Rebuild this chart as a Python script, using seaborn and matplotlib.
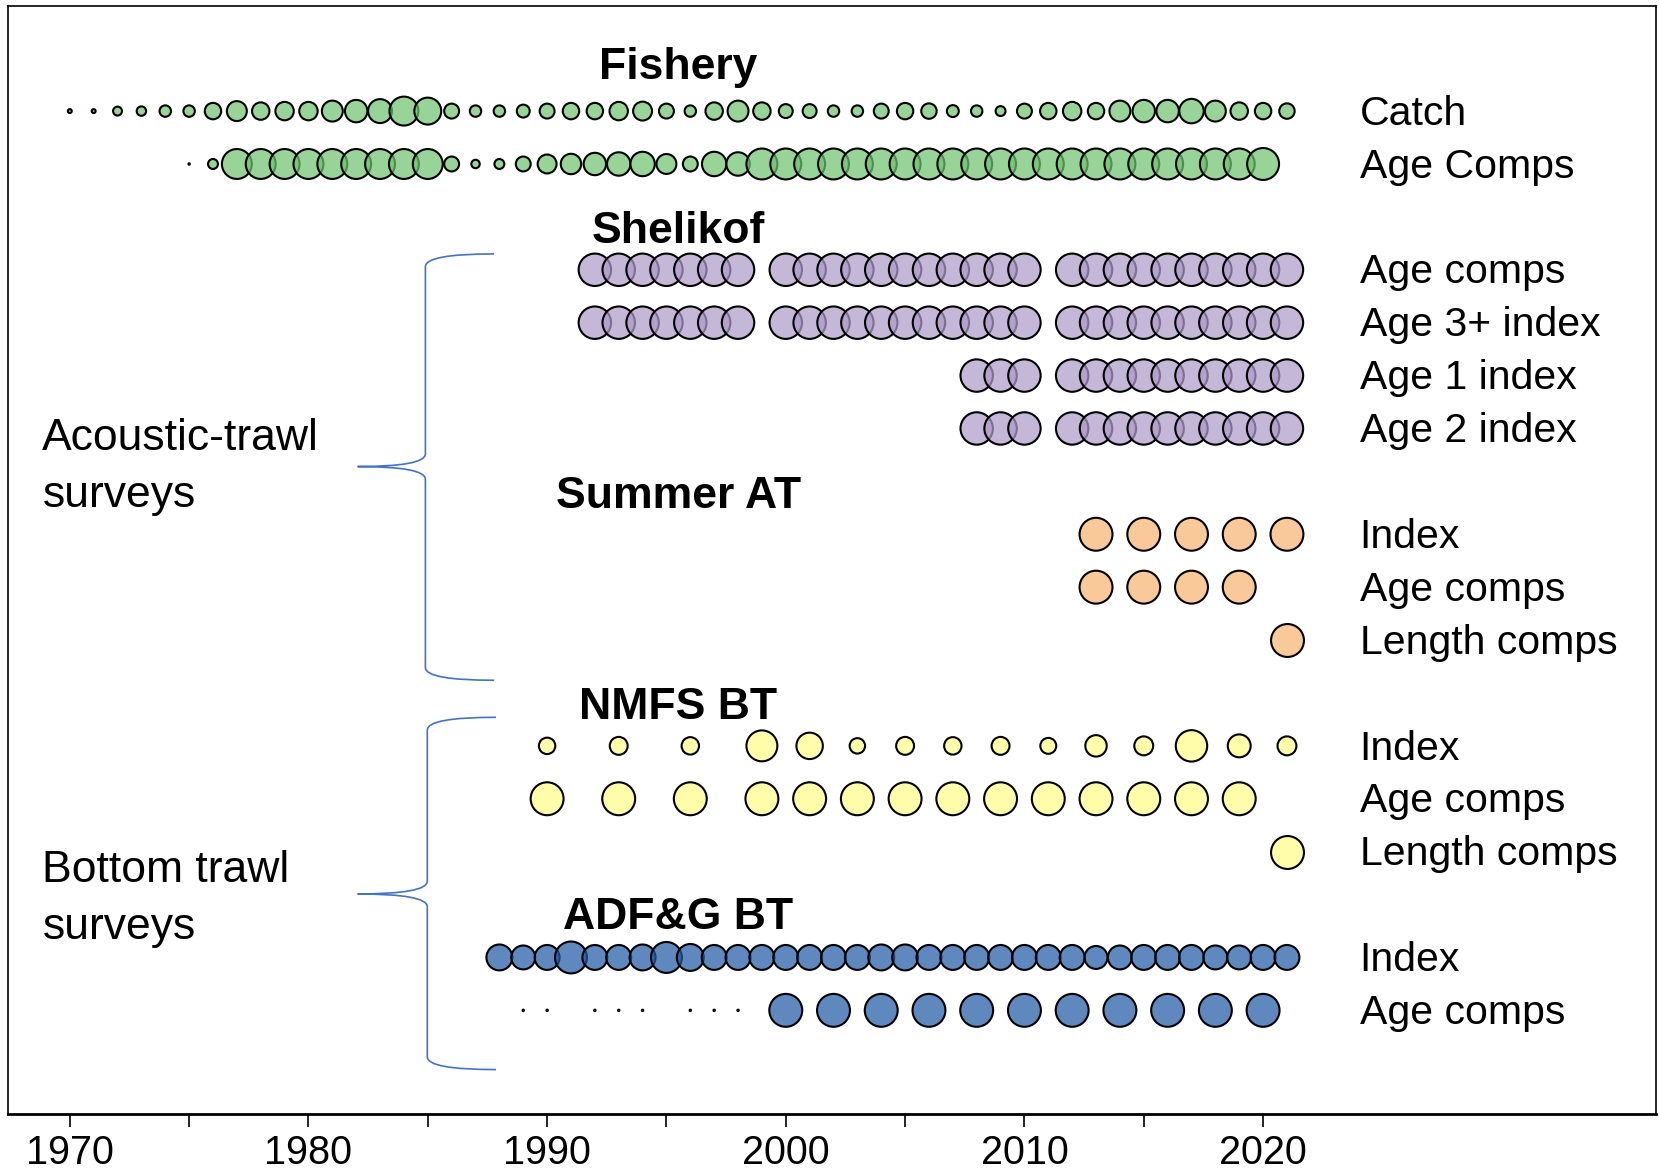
# Data availability bubble chart (fishery + surveys)

import pandas as pd
import matplotlib
matplotlib.use("Agg")
import matplotlib.pyplot as plt
import matplotlib.colors as mcolors
from matplotlib.path import Path
from matplotlib.patches import PathPatch
import seaborn as sns

sns.set_style("ticks")
plt.rcParams["font.family"] = ["Liberation Sans", "DejaVu Sans"]
plt.rcParams["text.color"] = "black"
plt.rcParams["xtick.color"] = "black"
plt.rcParams["xtick.labelcolor"] = "black"


# DATA (bubble diameters, in pixels)

fishery_catch_years = list(range(1970, 2022))
fishery_catch_size = [6, 6, 11, 11.5, 13.5, 13.5, 18.5, 22, 19.5, 20.5,
                      20.5, 23, 24.5, 26, 31, 29, 17, 13.5, 13.5, 15,
                      17, 18.5, 18.5, 20.5, 21, 17, 13.5, 19.5, 23, 19.5,
                      16, 16, 13.5, 13.5, 17, 18.5, 17.5, 14, 13.5, 12,
                      17, 18.5, 20.5, 18.5, 23, 24.5, 24.5, 26.5, 23, 19.5,
                      18.5, 17.5]

fishery_age_years = list(range(1975, 2021))
fishery_age_size = [3.5, 12, 32, 32, 32, 32, 32, 32, 32, 32,
                    32, 17, 10.5, 12, 17, 21, 22.5, 24.5, 25.5, 26.5,
                    22, 17, 26.5, 25.5, 33, 33, 33, 33, 33, 33,
                    33, 33, 33, 33, 33, 33, 33, 33, 33, 33,
                    33, 33, 33, 33, 33, 34]

shelikof_years = list(range(1992, 1999)) + list(range(2000, 2011)) + list(range(2012, 2022))
shelikof_age1_years = [2008, 2009, 2010] + list(range(2012, 2022))
shelikof_size = 34.5

summer_index_years = [2013, 2015, 2017, 2019, 2021]
summer_age_years = [2013, 2015, 2017, 2019]
summer_length_years = [2021]
summer_size = 35

nmfs_index_years = [1990, 1993, 1996, 1999, 2001, 2003, 2005, 2007, 2009,
                    2011, 2013, 2015, 2017, 2019, 2021]
nmfs_index_size = [18.5, 20, 19.5, 33, 28.5, 17.5, 20, 19.5, 20,
                   18, 23.5, 21, 33.5, 25, 21]
nmfs_age_years = [1990, 1993, 1996, 1999, 2001, 2003, 2005, 2007, 2009,
                  2011, 2013, 2015, 2017, 2019]
nmfs_length_years = [2021]
nmfs_size = 35

adfg_index_years = list(range(1988, 2022))
adfg_index_size = [28, 26, 27, 34, 27, 27, 28, 33, 29, 27,
                   27, 27, 27, 27, 27, 27, 28, 28, 27, 27,
                   27, 27, 27, 27, 27, 25, 26, 27, 27, 27,
                   26, 26, 27, 27]
adfg_age_years = [1989, 1990, 1992, 1993, 1994, 1996, 1997, 1998,
                  2000, 2002, 2004, 2006, 2008, 2010, 2012, 2014, 2016, 2018, 2020]
adfg_age_size = [3.5] * 8 + [35] * 11

green = "#98D398"
purple = "#C5B7D9"
orange = "#FAC99A"
yellow = "#FFFDAA"
blue = "#5F88BE"

# (row position, right label, years, sizes, colour)
rows = [
    (2, "Catch", fishery_catch_years, fishery_catch_size, green),
    (3, "Age Comps", fishery_age_years, fishery_age_size, green),
    (5, "Age comps", shelikof_years, shelikof_size, purple),
    (6, "Age 3+ index", shelikof_years, shelikof_size, purple),
    (7, "Age 1 index", shelikof_age1_years, shelikof_size, purple),
    (8, "Age 2 index", shelikof_age1_years, shelikof_size, purple),
    (10, "Index", summer_index_years, summer_size, orange),
    (11, "Age comps", summer_age_years, summer_size, orange),
    (12, "Length comps", summer_length_years, summer_size, orange),
    (14, "Index", nmfs_index_years, nmfs_index_size, yellow),
    (15, "Age comps", nmfs_age_years, nmfs_size, yellow),
    (16, "Length comps", nmfs_length_years, nmfs_size, yellow),
    (18, "Index", adfg_index_years, adfg_index_size, blue),
    (19, "Age comps", adfg_age_years, adfg_age_size, blue),
]

# (baseline row, title)
titles = [(1.4, "Fishery"), (4.5, "Shelikof"), (9.5, "Summer AT"),
          (13.5, "NMFS BT"), (17.47, "ADF&G BT")]


# HELPERS

EDGE = 1.5  # points


def fill(hex_color, alpha=0.72):
    # semi-transparent fill that looks like hex_color over white
    rgb = mcolors.to_rgb(hex_color)
    base = [min(max((c - (1 - alpha)) / alpha, 0), 1) for c in rgb]
    return (*base, alpha)


def area(diam_px):
    ms = (diam_px * 0.72 - EDGE).clip(lower=0.6)
    return ms ** 2


def brace(ax, x_tip, x_sp, x_pt, y_top, y_mid, y_bot, r=0.24):
    verts = [(x_tip, y_top), (x_sp, y_top), (x_sp, y_top + r),
             (x_sp, y_mid - r),
             (x_sp, y_mid), (x_pt, y_mid),
             (x_sp, y_mid), (x_sp, y_mid + r),
             (x_sp, y_bot - r),
             (x_sp, y_bot), (x_tip, y_bot)]
    codes = [Path.MOVETO, Path.CURVE3, Path.CURVE3, Path.LINETO,
             Path.CURVE3, Path.CURVE3, Path.CURVE3, Path.CURVE3,
             Path.LINETO, Path.CURVE3, Path.CURVE3]
    ax.add_patch(PathPatch(Path(verts, codes), facecolor="none",
                           edgecolor="#4472C4", linewidth=1.2, zorder=2))


# PLOT

fig = plt.figure(figsize=(16.59, 11.76), dpi=100)
ax = fig.add_axes([0.0051, 0.0527, 0.9929, 0.9419])

for y, label, yrs, size, col in rows:
    df = pd.DataFrame({"year": yrs, "row": y})
    df["size"] = size
    sns.scatterplot(
        data=df, x="year", y="row",
        s=area(df["size"]),
        color=fill(col),
        edgecolor="black",
        linewidth=EDGE,
        legend=False,
        ax=ax,
        zorder=3
    )
    ax.text(2024.04, y + 0.05, label, ha="left", va="center", fontsize=29.5)

for y, title in titles:
    ax.text(1995.5, y, title, ha="center", va="baseline",
            fontsize=32, fontweight="bold")

ax.text(1968.85, 8.72, "Acoustic-trawl\nsurveys", ha="left", va="center",
        fontsize=32, linespacing=1.5)
ax.text(1968.85, 16.9, "Bottom trawl\nsurveys", ha="left", va="center",
        fontsize=32, linespacing=1.5)

brace(ax, 1987.78, 1984.9, 1982.06, 4.7, 8.72, 12.76)
brace(ax, 1987.86, 1984.98, 1982.06, 13.46, 16.8, 20.12)

ax.set_xlim(1967.43, 2036.45)
ax.set_ylim(20.96, 0.02)
ax.set_xlabel("")
ax.set_ylabel("")
ax.set_yticks([])
ax.set_xticks(range(1970, 2021, 10))
ax.set_xticks(range(1975, 2020, 10), minor=True)
ax.tick_params(axis="x", which="both", direction="out", length=9.5,
               width=1.2, color="black", labelsize=28.5, pad=5,
               bottom=True, top=False)

for side in ["left", "right", "top"]:
    ax.spines[side].set_visible(True)
    ax.spines[side].set_linewidth(1.2)
    ax.spines[side].set_color("black")
ax.spines["bottom"].set_linewidth(2)
ax.spines["bottom"].set_color("black")

fig.savefig("out.png", dpi=100)
plt.close()
